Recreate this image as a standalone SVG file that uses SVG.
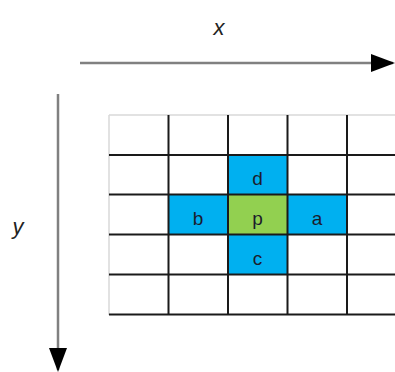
<svg xmlns="http://www.w3.org/2000/svg" width="395" height="372" viewBox="0 0 395 372">
<style>
.grid{stroke:#1a1a1a;stroke-width:2;fill:none}
.edge{stroke:#d9d9d9;stroke-width:1.5;fill:none}
.blue{fill:#00b0f0}
.green{fill:#92d050}
.lbl{font-family:"Liberation Sans",Arial,sans-serif;font-size:19px;fill:#1c1c2c;text-anchor:middle}
.axis{stroke:#808080;stroke-width:2.5;fill:none}
.axlbl{font-family:"Liberation Sans",Arial,sans-serif;font-style:italic;font-size:22px;fill:#222;text-anchor:middle}
</style>
<defs>
<marker id="ah" viewBox="0 0 24 18" refX="22" refY="9" markerWidth="24" markerHeight="18" markerUnits="userSpaceOnUse" orient="auto">
<path d="M0,0 L24,9 L0,18 Z" fill="#000"/>
</marker>
</defs>
<rect x="0" y="0" width="395" height="372" fill="#fff"/>
<g id="cells">
<g id="node-d"><rect class="blue" x="228" y="155" width="59.5" height="39.5"/><text class="lbl" x="257.5" y="184.5">d</text></g>
<g id="node-b"><rect class="blue" x="168.5" y="194.5" width="59.5" height="40"/><text class="lbl" x="198" y="224.5">b</text></g>
<g id="node-p"><rect class="green" x="228" y="194.5" width="59.5" height="40"/><text class="lbl" x="257.5" y="224.5">p</text></g>
<g id="node-a"><rect class="blue" x="287.5" y="194.5" width="59.5" height="40"/><text class="lbl" x="317" y="224.5">a</text></g>
<g id="node-c"><rect class="blue" x="228" y="234.5" width="59.5" height="40"/><text class="lbl" x="257.5" y="264.5">c</text></g>
</g>
<g id="grid">
<line class="edge" x1="109" y1="115" x2="395" y2="115"/>
<line class="edge" x1="109" y1="115" x2="109" y2="315"/>
<path class="grid" d="M168.5,115V315 M228,115V315 M287.5,115V315 M347,115V315 M109,155H395 M109,194.5H395 M109,234.5H395 M109,274.5H395 M109,314.5H395"/>
</g>
<g id="connectors">
<line class="axis" x1="80" y1="63" x2="393" y2="63" marker-end="url(#ah)"/>
<line class="axis" x1="58" y1="94" x2="58" y2="370" marker-end="url(#ah)"/>
</g>
<text class="axlbl" x="219" y="35">x</text>
<text class="axlbl" x="18" y="234">y</text>
</svg>
